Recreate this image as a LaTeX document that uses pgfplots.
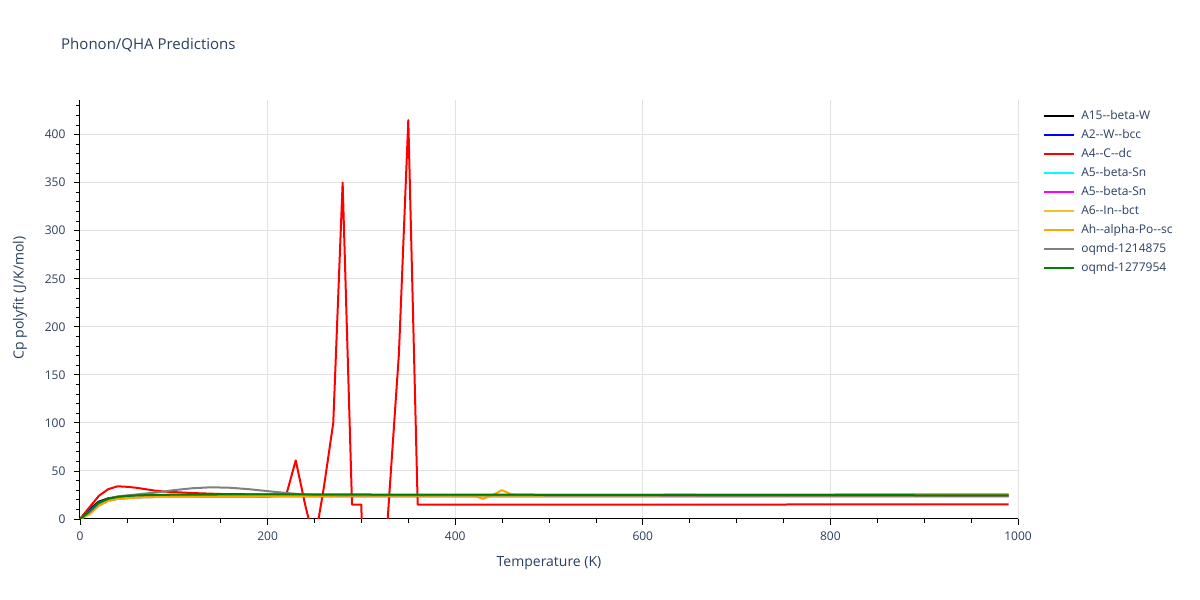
\documentclass[border=0pt]{standalone}
\usepackage{fontspec}
\setmainfont{Open Sans}[Ligatures=TeXOff]
\usepackage{pgfplots}
\pgfplotsset{compat=1.18}
\definecolor{ptxt}{HTML}{2A3F5F}
\definecolor{pgrid}{HTML}{E2E2E2}
\definecolor{ccyan}{HTML}{00FFFF}
\definecolor{cmagenta}{HTML}{FF00FF}
\definecolor{cgold}{HTML}{F0C030}
\definecolor{corange}{HTML}{FFA500}
\definecolor{cgray}{HTML}{808080}
\definecolor{cgreen}{HTML}{008000}

\begin{document}
\begin{tikzpicture}
\path[use as bounding box, fill=white] (0,0) rectangle (1200pt,600pt);
\begin{axis}[
    at={(80pt,81pt)}, anchor=south west,
    scale only axis, width=938pt, height=419pt,
    xmin=0, xmax=1000, ymin=0, ymax=436,
    axis x line*=bottom, axis y line*=left,
    axis line style={black, line width=1pt},
    xtick={0,200,...,1000}, minor xtick={0,50,...,1000},
    ytick={0,50,...,400}, minor ytick={0,10,...,430},
    tick align=outside, major tick length=6pt, minor tick length=4pt,
    every tick/.style={black, line width=0.8pt},
    xmajorgrids, ymajorgrids,
    major grid style={pgrid, line width=1pt},
    tick label style={font=\fontsize{12}{14}\selectfont, text=ptxt},
    xticklabel style={yshift=-3pt, /pgf/number format/1000 sep={}},
    yticklabel style={xshift=-5pt},
    /pgf/number format/assume math mode=true,
    every axis plot/.append style={line width=2pt, line join=round},
    legend style={at={(1.0267,0.976)}, anchor=north west, draw=none, fill=none,
      inner sep=0pt, row sep=7pt,
      font=\fontsize{12}{14}\selectfont, text=ptxt,
      nodes={inner sep=0pt, text height=9pt, text depth=3pt}},
    legend cell align=left,
    legend image code/.code={\draw[#1] (0pt,0pt) -- (30pt,0pt); \path (36pt,0pt);},
]
% A15--beta-W
\addplot[black] coordinates {(0,0) (10,10) (20,18) (30,21.5) (40,23) (60,24) (100,24.5) (300,24.7) (990,24.8)};
\addlegendentry{A15--beta-W}
% A2--W--bcc
\addplot[blue] coordinates {(0,0) (10,9) (20,17) (30,21) (40,22.5) (60,23.5) (100,24) (300,24.3) (990,24.5)};
\addlegendentry{A2--W--bcc}
% A4--C--dc
\addplot[red] coordinates {(0,0) (10,12) (20,24) (30,31) (40,34) (50,33.5) (60,32.5) (70,31) (80,29.5) (90,28.5) (100,28) (120,27) (150,26) (200,25.5) (220,25.5) (230,61) (240,15) (250,-25) (260,33) (270,100) (280,350) (290,15) (300,15) (310,-800) (320,-120) (330,29) (340,172) (350,415) (360,15) (600,15) (990,15.2)};
\addlegendentry{A4--C--dc}
% A5--beta-Sn
\addplot[ccyan] coordinates {(0,0) (10,6) (20,14) (30,19) (40,21) (60,22.5) (100,23.5) (300,23.8) (990,24)};
\addlegendentry{A5--beta-Sn}
% A5--beta-Sn
\addplot[cmagenta] coordinates {(0,0) (10,6) (20,14) (30,19) (40,21) (60,22.5) (100,23.3) (300,23.5) (990,23.5)};
\addlegendentry{A5--beta-Sn}
% A6--In--bct
\addplot[cgold] coordinates {(0,0) (10,5) (20,14) (30,19) (40,21) (60,22.5) (100,23.3) (200,23.7) (400,24) (990,24.5)};
\addlegendentry{A6--In--bct}
% Ah--alpha-Po--sc
\addplot[corange] coordinates {(0,0) (10,5) (20,14) (30,19) (40,21) (60,22.5) (100,23.5) (200,24) (300,24.2) (400,24.5) (420,24) (430,21) (440,25) (450,30) (460,25.5) (500,25.3) (700,25.6) (990,26)};
\addlegendentry{Ah--alpha-Po--sc}
% oqmd-1214875
\addplot[cgray] coordinates {(0,0) (10,7) (20,16) (30,21) (40,23.5) (60,25.5) (80,27.5) (100,30) (120,32) (140,33) (160,32.5) (180,31) (200,29) (220,27) (240,25.5) (260,24.8) (300,24.5) (990,24.3)};
\addlegendentry{oqmd-1214875}
% oqmd-1277954
\addplot[cgreen] coordinates {(0,0) (10,8) (20,17) (30,21) (40,23) (50,24) (60,24.5) (80,25) (100,25.3) (150,25.5) (200,25.6) (300,25.5) (500,25.2) (700,24.9) (990,24.6)};
\addlegendentry{oqmd-1277954}
\end{axis}
\node[anchor=west, inner sep=0pt, text=ptxt, font=\fontsize{15}{18}\selectfont] at (61pt,555pt) {Phonon/QHA Predictions};
\node[text=ptxt, font=\fontsize{14}{17}\selectfont] at (549pt,37pt) {Temperature (K)};
\node[rotate=90, text=ptxt, font=\fontsize{14}{17}\selectfont] at (20pt,302pt) {Cp polyfit (J/K/mol)};
\end{tikzpicture}
\end{document}
